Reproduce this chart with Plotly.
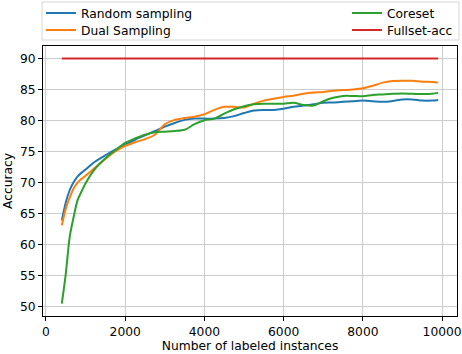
import plotly.graph_objects as go

x_vals = [400, 500, 600, 700, 800, 900, 1000, 1200, 1500, 1750, 2000, 2250, 2500, 2750,
          3000, 3250, 3500, 3750, 4000, 4250, 4500, 4750, 5000, 5250, 5500, 5750,
          6000, 6250, 6500, 6750, 7000, 7250, 7500, 7750, 8000, 8250, 8500, 8750,
          9000, 9250, 9500, 9750, 9900]

random_sampling = [63.9, 66.8, 68.8, 70.1, 71.0, 71.6, 72.1, 73.2, 74.4, 75.3, 76.1, 76.9, 77.6, 78.3,
                   79.0, 79.6, 80.1, 80.3, 80.3, 80.3, 80.4, 80.7, 81.2, 81.6, 81.7, 81.7,
                   81.9, 82.2, 82.4, 82.6, 82.85, 82.9, 83.0, 83.1, 83.2, 83.1, 83.0, 83.15,
                   83.4, 83.4, 83.2, 83.2, 83.3]

dual_sampling = [63.1, 65.8, 67.6, 69.1, 70.0, 70.6, 71.1, 72.2, 73.8, 75.0, 75.9, 76.5, 77.0, 77.7,
                 79.4, 80.1, 80.4, 80.6, 81.0, 81.7, 82.2, 82.2, 82.1, 82.7, 83.2, 83.5,
                 83.8, 84.0, 84.3, 84.5, 84.6, 84.8, 84.9, 85.0, 85.2, 85.6, 86.1, 86.35,
                 86.4, 86.4, 86.25, 86.2, 86.1]

coreset = [50.5, 55.3, 61.3, 64.5, 67.2, 68.6, 69.9, 71.9, 73.9, 75.2, 76.4, 77.1, 77.7, 78.1,
           78.2, 78.3, 78.5, 79.4, 80.05, 80.3, 81.1, 81.8, 82.3, 82.6, 82.7, 82.7,
           82.7, 82.85, 82.5, 82.4, 83.1, 83.65, 83.95, 83.95, 83.9, 84.1, 84.2, 84.3,
           84.35, 84.3, 84.25, 84.3, 84.45]

fullset_acc = [90.0] * len(x_vals)

x_ticks = [0, 2000, 4000, 6000, 8000, 10000]
x_tick_labels = ["0", "2000", "4000", "6000", "8000", "10000"]
y_ticks = [50, 55, 60, 65, 70, 75, 80, 85, 90]
y_tick_labels = ["50", "55", "60", "65", "70", "75", "80", "85", "90"]

FONT = "DejaVu Sans"
FS = 12.3

fig = go.Figure()
fig.add_trace(go.Scatter(x=x_vals, y=random_sampling, name="Random sampling", mode="lines",
                         line=dict(color="#1f77b4", width=2, shape="spline", smoothing=0.8),
                         legend="legend"))
fig.add_trace(go.Scatter(x=x_vals, y=dual_sampling, name="Dual Sampling", mode="lines",
                         line=dict(color="#ff7f0e", width=2, shape="spline", smoothing=0.8),
                         legend="legend2"))
fig.add_trace(go.Scatter(x=x_vals, y=coreset, name="Coreset", mode="lines",
                         line=dict(color="#2ca02c", width=2, shape="spline", smoothing=0.8),
                         legend="legend3"))
fig.add_trace(go.Scatter(x=x_vals, y=fullset_acc, name="Fullset-acc", mode="lines",
                         line=dict(color="#d62728", width=2),
                         legend="legend4"))

axis_common = dict(showgrid=True, gridcolor="#cccccc", gridwidth=1,
                   showline=True, linecolor="black", linewidth=1, mirror=True,
                   ticks="outside", ticklen=4, tickcolor="black", zeroline=False,
                   tickfont=dict(family=FONT, size=FS, color="black"))

# plot area in px: x 43..457, y 46..316
def px_x(p):
    return (p - 43) / 414.0

def px_y(p):
    return (316 - p) / 270.0

leg_common = dict(xanchor="left", yanchor="middle", bgcolor="rgba(0,0,0,0)",
                  font=dict(family=FONT, size=FS), borderwidth=0, itemwidth=30)

fig.update_layout(
    width=462, height=354,
    margin=dict(l=43, r=5, t=46, b=38, autoexpand=False),
    paper_bgcolor="white", plot_bgcolor="white",
    font=dict(family=FONT, size=FS, color="black"),
    showlegend=True,
    xaxis=dict(range=[-75, 10375], tickvals=x_ticks, ticktext=x_tick_labels,
               title=dict(text="Number of labeled instances", font=dict(family=FONT, size=FS), standoff=2),
               **axis_common),
    yaxis=dict(range=[48.5, 92], tickvals=y_ticks, ticktext=y_tick_labels,
               title=dict(text="Accuracy", font=dict(family=FONT, size=FS), standoff=4),
               **axis_common),
    legend=dict(x=px_x(41), y=px_y(13), **leg_common),
    legend2=dict(x=px_x(41), y=px_y(30), **leg_common),
    legend3=dict(x=px_x(347), y=px_y(13), **leg_common),
    legend4=dict(x=px_x(347), y=px_y(30), **leg_common),
    shapes=[dict(type="rect", xref="paper", yref="paper",
                 x0=px_x(42), x1=px_x(459), y0=px_y(40), y1=px_y(2),
                 line=dict(color="#d6d6d6", width=1), fillcolor="rgba(255,255,255,0.8)",
                 layer="below")],
)

fig.write_html("out.html", config={"displayModeBar": False},
               post_script="document.body.style.margin='0px';document.body.style.overflow='hidden';")
